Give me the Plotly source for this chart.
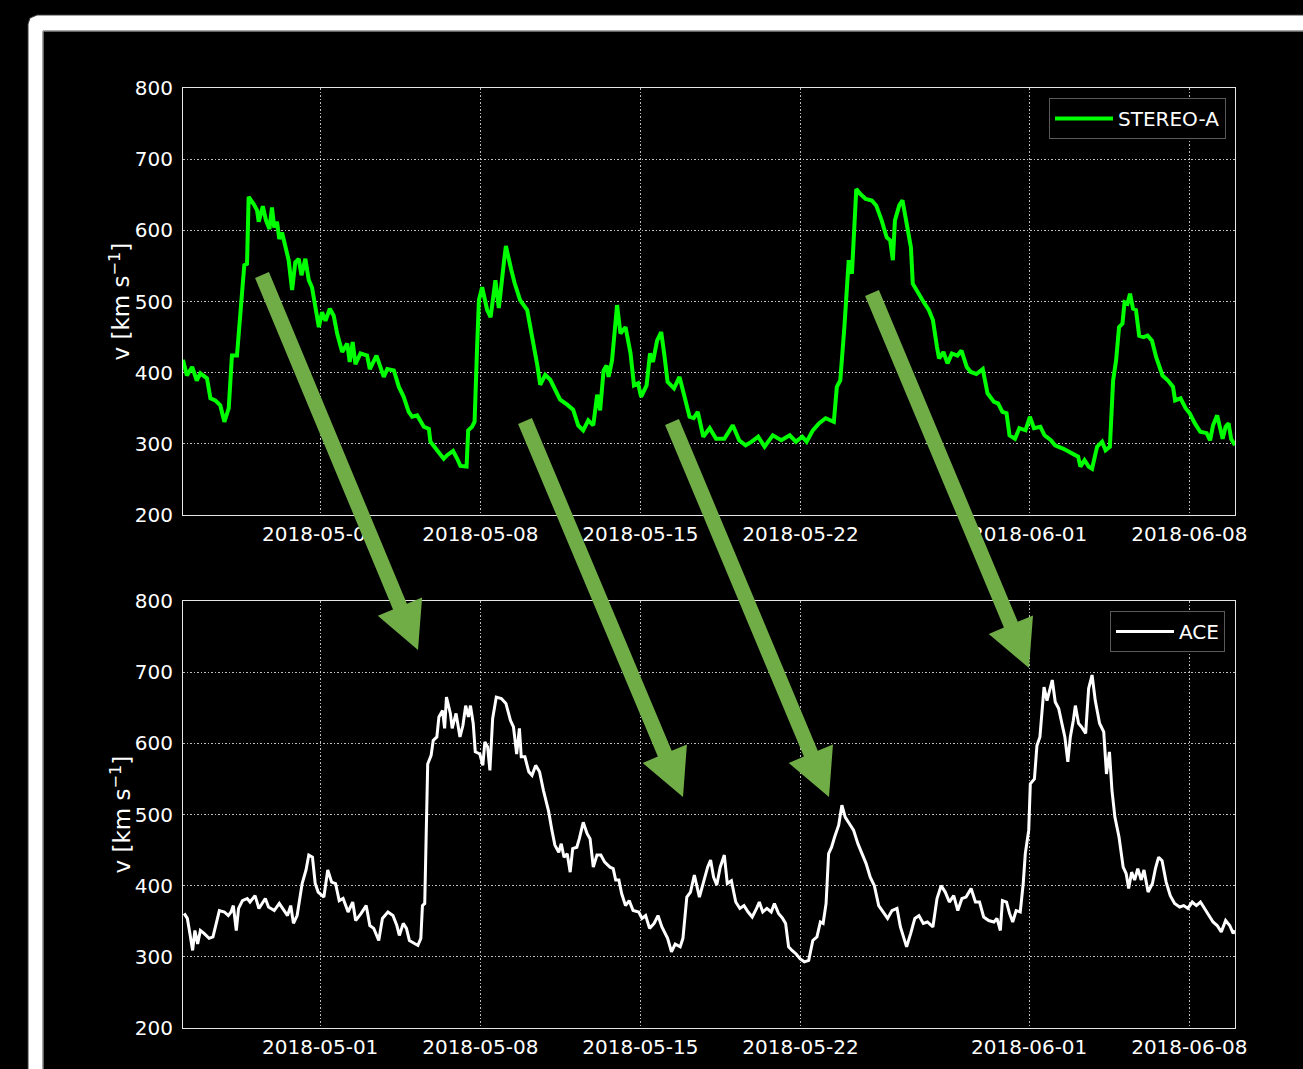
import pandas as pd
import plotly.graph_objects as go

# ---------------------------------------------------------------------------
# Data: solar-wind speed, time given in days after 2018-04-25 00:00 UT
# ---------------------------------------------------------------------------
START = pd.Timestamp("2018-04-25")
END = pd.Timestamp("2018-06-10")

stereo_days = [
    0.00, 0.17, 0.40, 0.60, 0.76, 1.05, 1.20, 1.41, 1.63, 1.81, 2.00, 2.14, 2.36,
    2.50, 2.68, 2.80, 2.87, 3.09, 3.24, 3.31, 3.49, 3.63, 3.78, 3.89, 3.99, 4.11,
    4.21, 4.33, 4.48, 4.62, 4.77, 4.91, 5.06, 5.18, 5.35, 5.50, 5.64, 5.79, 5.94,
    6.08, 6.23, 6.42, 6.59, 6.74, 6.96, 7.18, 7.29, 7.42, 7.54, 7.76, 8.05, 8.17,
    8.46, 8.63, 8.78, 8.93, 9.22, 9.44, 9.65, 9.87, 10.02, 10.24, 10.53, 10.75,
    10.82, 11.11, 11.40, 11.55, 11.81, 11.99, 12.13, 12.40, 12.47, 12.64, 12.75,
    12.86, 12.94, 13.08, 13.30, 13.45, 13.66, 13.81, 13.95, 14.05, 14.12, 14.25,
    14.35, 14.50, 14.74, 15.05, 15.31, 15.49, 15.62, 15.84, 16.06, 16.27, 16.49,
    16.80, 17.06, 17.28, 17.50, 17.72, 17.94, 18.11, 18.24, 18.39, 18.52, 18.61,
    18.76, 18.98, 19.13, 19.35, 19.57, 19.72, 19.90, 20.03, 20.27, 20.42, 20.55,
    20.73, 20.91, 21.04, 21.19, 21.47, 21.71, 21.93, 22.15, 22.33, 22.51, 22.75,
    23.03, 23.31, 23.67, 24.04, 24.32, 24.60, 24.87, 25.15, 25.43, 25.79, 26.16,
    26.53, 26.80, 27.08, 27.27, 27.54, 27.82, 28.10, 28.46, 28.59, 28.74, 28.92,
    29.11, 29.25, 29.44, 29.62, 29.85, 30.12, 30.31, 30.55, 30.77, 30.92, 31.04,
    31.13, 31.32, 31.46, 31.65, 31.83, 31.91, 32.15, 32.39, 32.61, 32.79, 32.97,
    33.06, 33.25, 33.43, 33.62, 33.86, 34.04, 34.27, 34.45, 34.69, 34.97, 35.18,
    35.46, 35.64, 35.83, 36.01, 36.14, 36.38, 36.57, 36.84, 37.03, 37.21, 37.49,
    37.67, 37.95, 38.13, 38.50, 38.87, 39.14, 39.24, 39.42, 39.60, 39.75, 39.97,
    40.19, 40.34, 40.53, 40.67, 40.80, 40.93, 41.08, 41.17, 41.30, 41.41, 41.54,
    41.67, 41.81, 42.00, 42.18, 42.37, 42.55, 42.83, 43.07, 43.29, 43.38, 43.62,
    43.84, 44.02, 44.24, 44.48, 44.76, 44.91, 45.04, 45.22, 45.35, 45.46, 45.59,
    45.72, 45.83, 46.00,
]
stereo_speed = [
    418, 396, 408, 389, 399, 392, 364, 361, 354, 331, 350, 424, 424,
    483, 551, 553, 647, 637, 628, 612, 634, 614, 602, 632, 604, 612,
    588, 597, 574, 558, 516, 555, 560, 537, 560, 530, 520, 492, 464,
    485, 473, 490, 480, 455, 429, 441, 415, 443, 412, 427, 424, 405,
    424, 408, 394, 405, 403, 380, 366, 345, 338, 340, 324, 321,
    303, 291, 279, 284, 290, 279, 269, 268, 319, 324, 331,
    436, 502, 520, 488, 478, 530, 491, 540, 560, 578, 555,
    545, 526, 502, 488, 446, 411, 383, 397, 390, 376, 362,
    355, 348, 326, 319, 333, 326, 369, 347, 403, 410, 394,
    417, 495, 455, 464, 427, 382, 385, 366, 382, 427, 415,
    445, 457, 427, 387, 378, 394, 366, 338, 336, 345, 310,
    322, 307, 307, 326, 305, 298, 303, 310, 296, 312, 305,
    312, 303, 310, 303, 319, 329, 336, 331, 380, 389, 464,
    558, 539, 658, 651, 644, 642, 635, 614, 590, 586, 558,
    614, 635, 642, 604, 576, 525, 511, 499, 488, 474, 436,
    420, 429, 413, 427, 424, 431, 408, 401, 398, 405, 371,
    359, 357, 345, 343, 312, 307, 322, 319, 338, 322, 324,
    312, 305, 298, 293, 286, 282, 268, 277, 268, 265, 296,
    303, 291, 296, 389, 417, 464, 469, 499, 497, 511, 490,
    488, 452, 450, 452, 445, 422, 396, 389, 380, 361, 364,
    350, 343, 329, 317, 315, 305, 326, 340, 324, 307, 324,
    329, 307, 298,
]

ace_days = [
    0.05, 0.19, 0.30, 0.42, 0.52, 0.64, 0.76, 0.92, 1.14, 1.31, 1.47, 1.59, 1.81,
    1.98, 2.10, 2.20, 2.33, 2.43, 2.60, 2.81, 2.93, 3.15, 3.32, 3.60, 3.74, 3.99,
    4.21, 4.41, 4.57, 4.71, 4.83, 4.99, 5.21, 5.38, 5.50, 5.66, 5.78, 5.91, 6.16,
    6.33, 6.50, 6.67, 6.83, 7.00, 7.22, 7.42, 7.55, 7.79, 8.01, 8.17, 8.34, 8.56,
    8.72, 8.96, 9.18, 9.35, 9.46, 9.63, 9.77, 9.90, 10.10, 10.27, 10.40, 10.47,
    10.57, 10.64, 10.70, 10.85, 10.94, 11.10, 11.19, 11.35, 11.44, 11.52, 11.69,
    11.77, 11.94, 12.11, 12.24, 12.36, 12.48, 12.57, 12.69, 12.78, 12.98, 13.11,
    13.20, 13.32, 13.42, 13.54, 13.70, 13.92, 14.12, 14.32, 14.45, 14.59, 14.71,
    14.79, 14.95, 15.12, 15.26, 15.42, 15.59, 15.76, 15.88, 15.99, 16.13, 16.26,
    16.43, 16.54, 16.66, 16.80, 16.93, 17.04, 17.22, 17.33, 17.50, 17.67, 17.80,
    17.94, 18.10, 18.27, 18.44, 18.67, 18.81, 18.92, 19.06, 19.18, 19.35, 19.51,
    19.68, 19.93, 20.07, 20.23, 20.40, 20.60, 20.77, 20.94, 21.19, 21.36, 21.52,
    21.74, 21.86, 22.03, 22.19, 22.36, 22.58, 22.76, 22.94, 23.07, 23.20, 23.34,
    23.49, 23.67, 23.80, 23.98, 24.17, 24.35, 24.53, 24.71, 24.89, 25.08, 25.20,
    25.35, 25.53, 25.72, 25.86, 26.04, 26.22, 26.35, 26.48, 26.63, 26.81, 26.99,
    27.17, 27.36, 27.54, 27.72, 27.87, 27.99, 28.12, 28.23, 28.36, 28.49, 28.67,
    28.81, 28.96, 29.14, 29.32, 29.51, 29.69, 29.87, 30.05, 30.23, 30.42, 30.63,
    30.81, 31.00, 31.22, 31.37, 31.64, 31.82, 32.00, 32.18, 32.37, 32.55, 32.79,
    32.97, 33.15, 33.33, 33.51, 33.70, 33.88, 34.06, 34.24, 34.46, 34.65, 34.83,
    35.01, 35.23, 35.46, 35.59, 35.74, 35.83, 36.01, 36.14, 36.28, 36.43, 36.61,
    36.74, 36.83, 36.98, 37.05, 37.23, 37.34, 37.47, 37.56, 37.65, 37.78, 37.89,
    38.01, 38.14, 38.29, 38.43, 38.56, 38.69, 38.80, 38.93, 39.02, 39.16, 39.29,
    39.47, 39.60, 39.75, 39.89, 40.08, 40.26, 40.38, 40.51, 40.62, 40.75, 40.93,
    41.11, 41.24, 41.35, 41.48, 41.61, 41.75, 41.90, 42.02, 42.20, 42.39, 42.52,
    42.66, 42.81, 42.99, 43.17, 43.36, 43.58, 43.76, 43.94, 44.13, 44.31, 44.49,
    44.67, 44.85, 45.04, 45.22, 45.40, 45.59, 45.77, 45.92, 46.00,
]
ace_speed = [
    361, 354, 333, 309, 337, 318, 337, 333, 326, 328, 349, 365, 363,
    358, 363, 372, 337, 368, 379, 382, 377, 386, 368, 382, 370, 365,
    375, 365, 358, 372, 347, 358, 403, 422, 443, 440, 403, 391, 384,
    422, 405, 403, 379, 382, 363, 377, 351, 361, 372, 344, 340, 323,
    354, 363, 358, 344, 330, 347, 340, 323, 319, 316, 326, 372,
    375, 487, 571, 583, 604, 609, 637, 646, 621, 665, 642,
    621, 642, 609, 625, 653, 637, 653, 628, 588, 585, 569,
    602, 595, 562, 635, 665, 663, 656, 632, 623, 585, 621,
    581, 581, 560, 555, 569, 560, 534, 520, 504, 478, 457,
    447, 459, 440, 445, 419, 452, 454, 466, 489, 473, 466,
    426, 443, 443, 433, 426, 424, 408, 408, 389, 372, 379,
    365, 363, 354, 358, 340, 347, 358, 342, 326, 307, 318,
    314, 326, 384, 391, 415, 384, 407, 426, 436, 412, 401,
    426, 443, 403, 407, 377, 368, 372, 363, 356, 368, 377,
    363, 368, 363, 375, 361, 354, 347, 314, 309, 304, 297,
    293, 295, 323, 328, 349, 347, 375, 445, 454, 468, 485,
    513, 496, 487, 478, 459, 445, 431, 412, 400, 372, 363,
    354, 365, 368, 342, 314, 333, 354, 358, 347, 349, 342,
    382, 400, 391, 377, 386, 365, 382, 384, 396, 377, 377,
    356, 351, 349, 354, 337, 379, 377, 361, 349, 365, 363,
    403, 445, 478, 543, 550, 597, 609, 651, 679, 660, 674,
    689, 658, 649, 628, 609, 574, 609, 632, 653, 628, 623,
    614, 677, 696, 660, 628, 616, 557, 588, 534, 496, 468,
    426, 417, 396, 419, 408, 424, 408, 422, 391, 403, 424,
    440, 435, 405, 386, 375, 370, 372, 368, 377, 372, 377,
    368, 358, 349, 344, 335, 351, 344, 333, 337,
]

date_ticks = ["2018-05-01", "2018-05-08", "2018-05-15", "2018-05-22",
              "2018-06-01", "2018-06-08"]
speed_ticks = [200, 300, 400, 500, 600, 700, 800]

stereo_time = START + pd.to_timedelta(stereo_days, unit="D")
ace_time = START + pd.to_timedelta(ace_days, unit="D")

# ---------------------------------------------------------------------------
# Page geometry (pixels) and helpers to express it in paper units
# ---------------------------------------------------------------------------
W, H = 1303, 1069
FONT = "DejaVu Sans"


def fx(px):
    return px / W


def fy(py):
    return 1 - py / H


X_DOMAIN = [fx(183), fx(1235)]
TOP_DOMAIN = [fy(515), fy(88)]
BOTTOM_DOMAIN = [fy(1028), fy(601)]

fig = go.Figure()

fig.add_trace(go.Scatter(
    x=stereo_time, y=stereo_speed, mode="lines", name="STEREO-A",
    line=dict(color="#00ff00", width=4), xaxis="x", yaxis="y", legend="legend",
))
fig.add_trace(go.Scatter(
    x=ace_time, y=ace_speed, mode="lines", name="ACE",
    line=dict(color="#ffffff", width=3), xaxis="x2", yaxis="y2", legend="legend2",
))

axis_common = dict(
    showline=True, mirror=True, linecolor="#e6e6e6", linewidth=1,
    showgrid=True, gridcolor="rgba(255,255,255,0.75)", gridwidth=1,
    griddash="1.5px,2px",
    ticks="outside", tickcolor="rgba(0,0,0,0)",
    tickfont=dict(family=FONT, size=20, color="white"),
    zeroline=False, automargin=False,
)
xaxis_common = dict(
    axis_common, type="date", range=[START, END], ticklen=1,
    tickmode="array", tickvals=date_ticks, ticktext=date_ticks,
)
yaxis_common = dict(
    axis_common, range=[200, 800], ticklen=5, tickmode="array",
    tickvals=speed_ticks,
)

fig.update_layout(
    xaxis=dict(xaxis_common, domain=X_DOMAIN, anchor="y"),
    yaxis=dict(yaxis_common, domain=TOP_DOMAIN, anchor="x"),
    xaxis2=dict(xaxis_common, domain=X_DOMAIN, anchor="y2"),
    yaxis2=dict(yaxis_common, domain=BOTTOM_DOMAIN, anchor="x2"),
)

legend_common = dict(
    bgcolor="black", bordercolor="#5a5a5a", borderwidth=1,
    font=dict(family=FONT, size=20, color="white"),
    xanchor="right", yanchor="top", itemwidth=58, tracegroupgap=0,
)
fig.update_layout(
    legend=dict(legend_common, x=fx(1226), y=fy(98)),
    legend2=dict(legend_common, x=fx(1225), y=fy(611)),
)

# y-axis titles
for py in (301.5, 814.5):
    fig.add_annotation(
        x=fx(120), y=fy(py), xref="paper", yref="paper",
        text="v [km s<sup>−1</sup>]", textangle=-90, showarrow=False,
        xanchor="center", yanchor="middle",
        font=dict(family=FONT, size=23, color="white"),
    )


def path_from(points):
    return "M " + " L ".join(f"{fx(x):.5f},{fy(y):.5f}" for x, y in points) + " Z"


# white window frame around the figure
frame = [(28, H + 5), (28, 24), (30, 18), (37, 15), (W + 5, 15), (W + 5, 31),
         (43, 31), (43, H + 5)]
fig.add_shape(type="path", path=path_from(frame), xref="paper", yref="paper",
              fillcolor="white", line=dict(color="#3a3a3a", width=1), layer="below")
fig.add_shape(type="path",
              path=f"M {fx(43):.5f},{fy(H + 5):.5f} L {fx(43):.5f},{fy(31):.5f} "
                   f"L {fx(W + 5):.5f},{fy(31):.5f}",
              xref="paper", yref="paper", line=dict(color="#b0b0b0", width=1),
              layer="below")


# block arrows linking the STEREO-A streams to their arrival at ACE
def block_arrow(tail, tip, shaft=15.0, head=48.0, head_len=47.0):
    (tx, ty), (hx, hy) = tail, tip
    dx, dy = hx - tx, hy - ty
    length = (dx * dx + dy * dy) ** 0.5
    ux, uy = dx / length, dy / length
    nx, ny = -uy, ux
    bx, by = hx - ux * head_len, hy - uy * head_len
    s, h = shaft / 2, head / 2
    pts = [
        (tx + nx * s, ty + ny * s),
        (bx + nx * s, by + ny * s),
        (bx + nx * h, by + ny * h),
        (hx, hy),
        (bx - nx * h, by - ny * h),
        (bx - nx * s, by - ny * s),
        (tx - nx * s, ty - ny * s),
    ]
    return path_from(pts)


arrows = [((262, 275), (418, 650)),
          ((525, 421), (683, 797)),
          ((672, 422), (829, 797)),
          ((872, 293), (1029, 668))]
for tail, tip in arrows:
    fig.add_shape(type="path", path=block_arrow(tail, tip), xref="paper",
                  yref="paper", fillcolor="#70ad47", line=dict(width=0),
                  layer="above")

fig.update_layout(
    width=W, height=H,
    margin=dict(l=0, r=0, t=0, b=0, pad=0, autoexpand=False),
    paper_bgcolor="black", plot_bgcolor="black",
    font=dict(family=FONT, size=20, color="white"),
    showlegend=True,
)

fig.write_html("out.html")
